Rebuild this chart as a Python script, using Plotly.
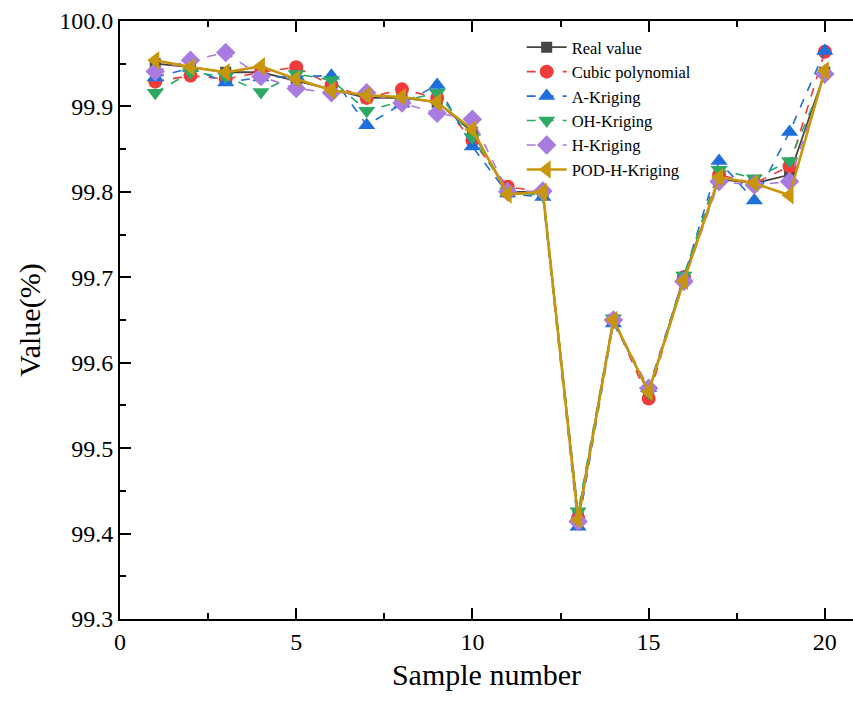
import plotly.graph_objects as go

samples = list(range(1, 21))
real_value = [99.950, 99.946, 99.940, 99.940, 99.930, 99.920, 99.910, 99.910, 99.905, 99.870,
              99.800, 99.800, 99.420, 99.650, 99.565, 99.700, 99.815, 99.810, 99.820, 99.940]
cubic_poly = [99.929, 99.936, 99.932, 99.940, 99.946, 99.925, 99.910, 99.920, 99.910, 99.860,
              99.806, 99.800, 99.418, 99.650, 99.558, 99.700, 99.820, 99.810, 99.830, 99.964]
a_kriging = [99.934, 99.945, 99.928, 99.934, 99.935, 99.936, 99.878, 99.903, 99.925, 99.853,
             99.798, 99.794, 99.408, 99.646, 99.570, 99.700, 99.836, 99.790, 99.870, 99.965]
oh_kriging = [99.916, 99.940, 99.935, 99.917, 99.938, 99.931, 99.895, 99.906, 99.916, 99.864,
              99.800, 99.796, 99.426, 99.652, 99.565, 99.702, 99.826, 99.816, 99.836, 99.935]
h_kriging = [99.941, 99.954, 99.963, 99.935, 99.921, 99.916, 99.916, 99.904, 99.892, 99.885,
             99.800, 99.801, 99.414, 99.650, 99.570, 99.695, 99.812, 99.808, 99.812, 99.938]
pod_h_kriging = [99.954, 99.946, 99.940, 99.947, 99.932, 99.919, 99.913, 99.911, 99.905, 99.873,
                 99.797, 99.800, 99.416, 99.650, 99.566, 99.696, 99.817, 99.810, 99.796, 99.942]

series = [
    ("Real value", real_value, "#454545", "square", "solid", 1.8, 11),
    ("Cubic polynomial", cubic_poly, "#F03B3B", "circle", "dash", 1.6, 14),
    ("A-Kriging", a_kriging, "#1E6FD9", "triangle-up", "dash", 1.6, 15),
    ("OH-Kriging", oh_kriging, "#2EA865", "triangle-down", "dash", 1.6, 15),
    ("H-Kriging", h_kriging, "#A97BE0", "diamond", "dash", 1.6, 15),
    ("POD-H-Kriging", pod_h_kriging, "#C8960C", "triangle-left", "solid", 2.6, 16),
]

fig = go.Figure()
for name, vals, color, sym, dash, lw, ms in series:
    fig.add_trace(go.Scatter(
        x=samples, y=vals, name=name, mode="lines+markers",
        line=dict(color=color, width=lw, dash=dash),
        marker=dict(symbol=sym, size=ms, color=color, line=dict(width=0)),
    ))

font_family = "'Times New Roman', 'Liberation Serif', serif"
fig.update_layout(
    width=853, height=708,
    margin=dict(l=120, r=0, t=21, b=89),
    plot_bgcolor="white", paper_bgcolor="white",
    font=dict(family=font_family, color="black"),
    legend=dict(x=0.548, y=0.985, xanchor="left", yanchor="top",
                font=dict(size=16.5, family=font_family), bgcolor="rgba(0,0,0,0)",
                tracegroupgap=0, itemwidth=40),
    showlegend=True,
)
fig.update_xaxes(
    range=[0, 20.8], tickmode="array", tickvals=[0, 5, 10, 15, 20],
    ticks="inside", ticklen=11, tickwidth=1.8, tickcolor="black",
    minor=dict(tickvals=[2.5, 7.5, 12.5, 17.5], ticks="inside", ticklen=6, tickwidth=1.5, tickcolor="black"),
    showline=True, linecolor="black", linewidth=2, mirror="ticks",
    showgrid=False, zeroline=False,
    tickfont=dict(size=24, family=font_family),
    title=dict(text="Sample number", font=dict(size=30, family=font_family), standoff=10),
)
fig.update_yaxes(
    range=[99.3, 100.0], tickmode="array",
    tickvals=[99.3, 99.4, 99.5, 99.6, 99.7, 99.8, 99.9, 100.0],
    ticktext=["99.3", "99.4", "99.5", "99.6", "99.7", "99.8", "99.9", "100.0"],
    ticks="inside", ticklen=11, tickwidth=1.8, tickcolor="black",
    minor=dict(tickvals=[99.35, 99.45, 99.55, 99.65, 99.75, 99.85, 99.95], ticks="inside",
               ticklen=6, tickwidth=1.5, tickcolor="black"),
    showline=True, linecolor="black", linewidth=2, mirror=False,
    showgrid=False, zeroline=False,
    tickfont=dict(size=24, family=font_family),
    title=dict(text="Value(%)", font=dict(size=30, family=font_family), standoff=10),
)

fig.write_html("out.html")
